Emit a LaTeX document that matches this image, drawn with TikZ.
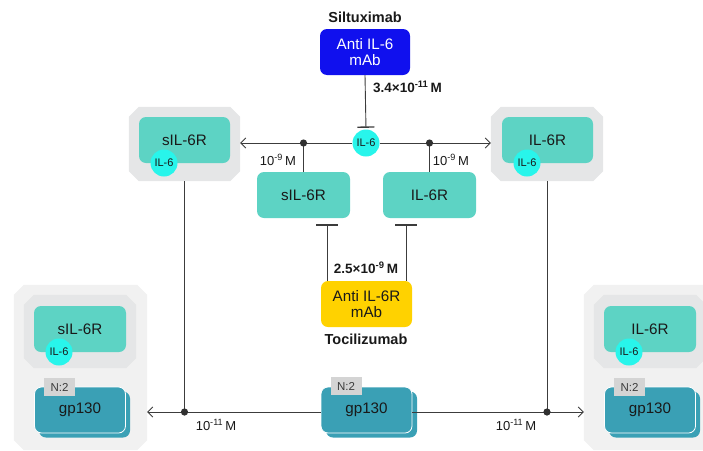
\documentclass[tikz,border=0pt]{standalone}
\usepackage{fontspec}
\setmainfont{Liberation Sans}
\usetikzlibrary{arrows.meta}
\definecolor{tealA}{RGB}{93,211,196}
\definecolor{cyanA}{RGB}{40,245,235}
\definecolor{blueA}{RGB}{16,16,238}
\definecolor{yellowA}{RGB}{255,210,0}
\definecolor{gpA}{RGB}{58,160,181}
\definecolor{lineA}{RGB}{60,60,60}
\definecolor{txtA}{RGB}{25,25,25}
\definecolor{grayTop}{RGB}{229,230,231}
\definecolor{grayOut}{RGB}{241,241,241}
\definecolor{grayIn}{RGB}{229,230,231}
\definecolor{grayN}{RGB}{212,212,212}
\newcommand\chamfer[2]{%
 \fill[#1] ([xshift=10pt]#2.north west) -- ([xshift=-10pt]#2.north east) -- ([yshift=-10pt]#2.north east) -- ([yshift=10pt]#2.south east) -- ([xshift=-10pt]#2.south east) -- ([xshift=10pt]#2.south west) -- ([yshift=10pt]#2.south west) -- ([yshift=-10pt]#2.north west) -- cycle;}
\begin{document}
\begin{tikzpicture}[x=1pt,y=-1pt,
  grparea/.style={inner sep=0pt},
  bigfont/.style={font=\fontsize{15.2}{15.5}\selectfont},
  box/.style={rounded corners=7pt, inner sep=0pt, minimum width=91pt, minimum height=46pt, text=txtA, bigfont, align=center},
  tealbox/.style={box, fill=tealA},
  gpbox/.style={box, fill=gpA},
  gpfront/.style={box, fill=gpA, draw=white, line width=0.8pt},
  ilc/.style={circle, fill=cyanA, minimum size=27pt, inner sep=0pt, font=\fontsize{11}{12}\selectfont, text=txtA},
  ntag/.style={fill=grayN, minimum width=31pt, minimum height=18pt, inner sep=0pt, font=\fontsize{11.5}{12}\selectfont, text=txtA!85},
  lbl/.style={font=\fontsize{13}{14}\selectfont, text=txtA},
  blbl/.style={font=\bfseries\fontsize{13.5}{14}\selectfont, text=txtA},
  drugname/.style={font=\bfseries\fontsize{14.5}{15}\selectfont, text=txtA},
  conn/.style={draw=lineA, line width=0.9pt},
  arr/.style={conn, -{Straight Barb[length=5pt,width=10pt]}},
  tbar/.style={conn, -{Bar[width=#1,line width=1.4pt]}},
  dot/.style={fill=lineA!80!black}
]
\useasboundingbox (0,0) rectangle (703,450);
\begin{scope}
\clip (0,0) rectangle (703,450);
% group areas
\node[grparea, minimum width=111pt, minimum height=74pt] (tlg) at (184.5,144) {};
\node[grparea, minimum width=112pt, minimum height=74pt] (trg) at (547,144) {};
\node[grparea, minimum width=133pt, minimum height=165pt] (blg) at (80.5,367.5) {};
\node[grparea, minimum width=112pt, minimum height=73pt] (bli) at (80,331.5) {};
\node[grparea, minimum width=133pt, minimum height=165pt] (brg) at (650.5,367.5) {};
\node[grparea, minimum width=112pt, minimum height=73pt] (bri) at (650,331.5) {};
\chamfer{grayTop}{tlg}
\chamfer{grayTop}{trg}
\chamfer{grayOut}{blg}
\chamfer{grayIn}{bli}
\chamfer{grayOut}{brg}
\chamfer{grayIn}{bri}
% top groups
\node[tealbox] (tlr) at (184.5,140) {sIL-6R};
\node[ilc] (tli) at (164,163) {IL-6};
\node[tealbox] (trr) at (547.5,140) {IL-6R};
\node[ilc] (tri) at (527,163) {IL-6};
% bottom left group
\node[tealbox, minimum width=92pt] (blr) at (80,329) {sIL-6R};
\node[ilc] (bli6) at (59,352) {IL-6};
\node[gpbox] (blgb) at (84.5,414.5) {};
\node[gpfront] (blgp) at (80,410) {gp130};
\node[ntag] (bln) at (59.5,387) {N:2};
% bottom right group
\node[tealbox, minimum width=92pt] (brr) at (650,329) {IL-6R};
\node[ilc] (bri6) at (629,352) {IL-6};
\node[gpbox] (brgb) at (654.5,414.5) {};
\node[gpfront] (brgp) at (650,410) {gp130};
\node[ntag] (brn) at (629.5,387) {N:2};
\end{scope}
% centre
\node[drugname] (silt) at (365,17) {Siltuximab};
\node[box, fill=blueA, minimum width=90pt, text=white] (anti) at (365,52) {Anti IL-6\\mAb};
\node[ilc] (c6) at (366,143) {IL-6};
\node[tealbox, minimum width=93pt] (sm) at (303.5,195) {sIL-6R};
\node[tealbox, minimum width=93pt] (rm) at (429.5,195) {IL-6R};
\node[box, fill=yellowA] (yel) at (366.5,304) {Anti IL-6R\\mAb};
\node[drugname] (toci) at (366,339) {Tocilizumab};
\node[gpbox] (gpmb) at (371.5,414.5) {};
\node[gpfront] (gpm) at (366.5,410) {gp130};
\node[ntag] (gpn) at (346,386) {N:2};
% labels
\node[blbl] (k1) at (407.5,87) {3.4×10\textsuperscript{-11}\,M};
\node[blbl] (k2) at (366,268) {2.5×10\textsuperscript{-9}\,M};
\node[lbl] (k3) at (278,160) {10\textsuperscript{-9}\,M};
\node[lbl] (k4) at (451,160) {10\textsuperscript{-9}\,M};
\node[lbl] (k5) at (216,425) {10\textsuperscript{-11}\,M};
\node[lbl] (k6) at (516,425) {10\textsuperscript{-11}\,M};
% connectors
\draw[tbar=17pt, shorten >=1.5pt] (anti.south) -- (c6.north);
\draw[arr] (c6.west) -- (c6.west -| tlg.east);
\draw[arr] (c6.east) -- (c6.east -| trg.west);
\coordinate (d1) at (sm.north |- c6.west);
\coordinate (d2) at (rm.north |- c6.east);
\draw[conn] (d1) -- (sm.north);
\draw[conn] (d2) -- (rm.north);
\fill[dot] (d1) circle (3.6pt);
\fill[dot] (d2) circle (3.6pt);
\draw[tbar=22pt, shorten >=6pt] ([xshift=-39.5pt]yel.north) -- ([xshift=-39.5pt]yel.north |- sm.south);
\draw[tbar=22pt, shorten >=6pt] ([xshift=39.5pt]yel.north) -- ([xshift=39.5pt]yel.north |- rm.south);
\coordinate (hl) at ([yshift=-2pt]gpm.west);
\coordinate (hr) at ([yshift=-2pt]gpm.east);
\draw[arr] (hl) -- (hl -| blg.east);
\draw[arr] (hr) -- (hr -| brg.west);
\coordinate (d3) at (tlg.south |- hl);
\coordinate (d4) at (trg.south |- hr);
\draw[conn] (tlg.south) -- (d3);
\draw[conn] (trg.south) -- (d4);
\fill[dot] (d3) circle (3.6pt);
\fill[dot] (d4) circle (3.6pt);
\end{tikzpicture}
\end{document}
